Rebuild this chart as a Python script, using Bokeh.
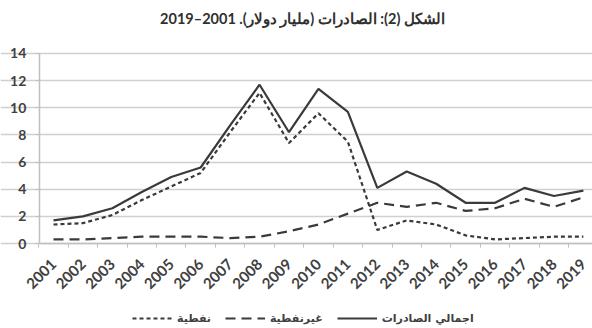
from bokeh.plotting import figure
from bokeh.models import (ColumnDataSource, FixedTicker, Legend, LegendItem,
                          Range1d, Label)
from bokeh.embed import file_html
from bokeh.resources import INLINE
import math

# Exports, billion dollars, 2001-2019
years = list(range(2001, 2020))
total_exports = [1.7, 2.0, 2.6, 3.8, 4.9, 5.6, 8.7, 11.7, 8.2, 11.4,
                 9.7, 4.1, 5.3, 4.4, 3.0, 3.0, 4.1, 3.5, 3.9]
non_oil = [0.3, 0.3, 0.4, 0.5, 0.5, 0.5, 0.4, 0.5, 0.9, 1.4,
           2.2, 3.0, 2.7, 3.0, 2.4, 2.6, 3.3, 2.7, 3.4]
oil = [1.4, 1.5, 2.1, 3.2, 4.2, 5.2, 8.2, 11.1, 7.4, 9.6,
       7.5, 1.0, 1.7, 1.4, 0.6, 0.3, 0.4, 0.5, 0.5]
y_ticks = [0, 2, 4, 6, 8, 10, 12, 14]

title_text = "\u202bالشكل (2): الصادرات (مليار دولار). 2001\u20132019\u202c"
label_total = "اجمالي الصادرات"
label_non_oil = "غيرنفطية"
label_oil = "نفطية"

src = ColumnDataSource(dict(year=years, total=total_exports,
                            non_oil=non_oil, oil=oil))

INK = "#3a3a3a"
TXT = "#404040"
GRID = "#d0d0d0"
FONT = "Lato"

X_START, X_END = 2000.52, 2019.31   # extent of the plotted area

# The frame spans the whole canvas; both axes are pinned inside it so the
# surrounding room holds the title, the tick labels and the legend.
p = figure(frame_width=592, frame_height=328,
           output_backend="svg", toolbar_location=None,
           x_range=Range1d(1999.2, X_END), y_range=Range1d(-6.263, 17.905),
           min_border_left=0, min_border_right=0, min_border_top=0,
           min_border_bottom=0, outline_line_color=None,
           background_fill_color="white", border_fill_color="white")
p.title = None

p.add_layout(Label(x=302, y=310, x_units="screen", y_units="screen",
                   text=title_text, text_align="center",
                   text_baseline="middle", text_font=FONT,
                   text_font_size="14.5px", text_font_style="bold",
                   text_color="#303030"))

r_total = p.line("year", "total", source=src, line_color=INK, line_width=2.2)
r_non = p.line("year", "non_oil", source=src, line_color=INK, line_width=2.2,
               line_dash="10 6")
r_oil = p.line("year", "oil", source=src, line_color=INK, line_width=2.2,
               line_dash="4 3")

# x axis drawn at value 0
p.xaxis.fixed_location = 0
p.xaxis.bounds = (X_START, X_END)
p.xaxis.ticker = FixedTicker(ticks=years,
                             minor_ticks=[y - 0.5 for y in years] + [2019.5])
p.xaxis.major_tick_line_color = None
p.xaxis.minor_tick_line_color = "#bfbfbf"
p.xaxis.minor_tick_out = 4
p.xaxis.minor_tick_in = 0
p.xaxis.axis_line_color = "#bfbfbf"
p.xaxis.axis_line_width = 1.5
p.xaxis.major_label_orientation = math.pi / 4
p.xaxis.major_label_text_font = FONT
p.xaxis.major_label_text_font_style = "bold"
p.xaxis.major_label_text_font_size = "15px"
p.xaxis.major_label_text_color = TXT
p.xaxis.major_label_standoff = 12

# y axis drawn at the left edge of the plotted area
p.yaxis.fixed_location = X_START
p.yaxis.bounds = (0, 14)
p.yaxis.ticker = FixedTicker(ticks=y_ticks)
p.yaxis.major_tick_line_color = "#bfbfbf"
p.yaxis.major_tick_out = 4
p.yaxis.major_tick_in = 0
p.yaxis.minor_tick_line_color = None
p.yaxis.axis_line_color = "#bfbfbf"
p.yaxis.axis_line_width = 1.5
p.yaxis.major_label_text_font = FONT
p.yaxis.major_label_text_font_style = "bold"
p.yaxis.major_label_text_font_size = "14px"
p.yaxis.major_label_text_color = TXT
p.yaxis.major_label_standoff = 9

p.xgrid.grid_line_color = None
p.ygrid.grid_line_color = GRID
p.ygrid.grid_line_width = 1.6
p.ygrid.bounds = (X_START, X_END)

# legend under the rotated year labels
legend = Legend(items=[LegendItem(label=label_oil, renderers=[r_oil]),
                       LegendItem(label=label_non_oil, renderers=[r_non]),
                       LegendItem(label=label_total, renderers=[r_total])],
                orientation="horizontal", location=(132, 2),
                label_text_font="DejaVu Sans", label_text_font_size="11px",
                label_text_font_style="bold", label_text_color=TXT,
                glyph_width=40, glyph_height=16, label_height=16,
                spacing=14, label_standoff=5,
                border_line_color=None, background_fill_alpha=0,
                margin=0, padding=0)
p.add_layout(legend)

open("out.html", "w").write(file_html(p, INLINE))
